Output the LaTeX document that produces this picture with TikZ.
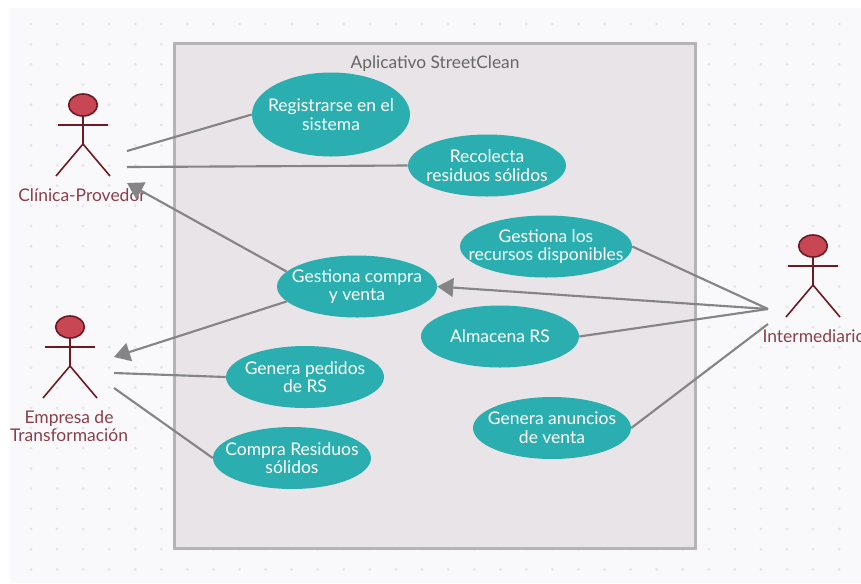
\documentclass[tikz,border=0pt]{standalone}
\usepackage{fontspec}
\setmainfont{Lato}
\usetikzlibrary{shapes.geometric,arrows.meta}
\definecolor{panelbg}{HTML}{F9F9FC}
\definecolor{griddot}{HTML}{E6E6EA}
\definecolor{sysfill}{HTML}{E9E4E7}
\definecolor{sysline}{HTML}{B6B2B5}
\definecolor{teal}{HTML}{2BAEAF}
\definecolor{conn}{HTML}{858585}
\definecolor{actline}{HTML}{6E1A22}
\definecolor{actfill}{HTML}{C94655}
\definecolor{acttext}{HTML}{8A3F4A}
\tikzset{
  x=0.75pt,y=-0.75pt,
  usecase/.style={ellipse,fill=teal,text=white,inner xsep=-20pt,inner ysep=-5pt,align=center,font=\fontsize{13.1}{14}\selectfont,minimum width=118.5pt,minimum height=46.5pt},
  link/.style={draw=conn,line width=1.6pt},
  linkarrow/.style={link,-{Triangle[length=12pt,width=14pt]}},
  actorlabel/.style={text=acttext,align=center,font=\fontsize{13.1}{14}\selectfont,inner sep=0pt},
  limb/.style={draw=actline,line width=1.2pt},
  head/.style={ellipse,draw=actline,fill=actfill,line width=1.2pt,minimum width=21.5pt,minimum height=16.5pt,inner sep=0pt},
}
\newcommand{\stickman}[3]{%
  \node[head] (#3h) at (#1,#2) {};
  \coordinate (#3a) at (#1-25,#2+20);
  \coordinate (#3b) at (#1+25,#2+20);
  \coordinate (#3c) at (#1+0,#2+39);
  \coordinate (#3d) at (#1-27,#2+71);
  \coordinate (#3e) at (#1+27,#2+71);
  \draw[limb] (#3h.south) -- (#3c);
  \draw[limb] (#3a) -- (#3b);
  \draw[limb] (#3d) -- (#3c) -- (#3e);
}
\begin{document}
\begin{tikzpicture}
\useasboundingbox (0,0) rectangle (861,583);
\fill[white] (0,0) rectangle (861,583);
\fill[panelbg] (10,8) rectangle (861,583);
\foreach \i in {0,...,31}{\foreach \j in {0,...,27}{
  \fill[griddot] ({31+26.07*\i},{24+20.2*\j}) circle[radius=1.6];
}}
\node[draw=sysline,fill=sysfill,line width=1.6pt,minimum width=390.75pt,minimum height=378.75pt,inner sep=0pt] (sys) at (435,296) {};
\node[text=black!60,font=\fontsize{13}{14}\selectfont,inner sep=0pt] (title) at (435,63.5) {Aplicativo StreetClean};

\node[usecase,minimum height=63pt] (reg) at (331,114.5) {Registrarse en el\\sistema};
\node[usecase] (rec) at (487,165.5) {Recolecta\\residuos sólidos};
\node[usecase,minimum width=129pt] (ges) at (546,246.5) {Gestiona los\\recursos disponibles};
\node[usecase,minimum width=120pt] (gcv) at (357,286.5) {Gestiona compra\\y venta};
\node[usecase] (alm) at (500,336.5) {Almacena RS};
\node[usecase] (ped) at (305,377) {Genera pedidos\\de RS};
\node[usecase] (com) at (292,458) {Compra Residuos\\sólidos};
\node[usecase] (anu) at (552,428) {Genera anuncios\\de venta};

\stickman{83}{105}{c}
\stickman{70}{327}{e}
\stickman{813}{246}{i}

\node[actorlabel] (cl) at (82,195) {Clínica-Provedor};
\node[actorlabel] (el) at (69,426) {Empresa de\\Transformación};
\node[actorlabel] (il) at (814,336) {Intermediario};

\coordinate (c1) at (127,151);
\coordinate (c2) at (127,167);
\coordinate (c3) at (127,183);
\coordinate (e1) at (114,357);
\coordinate (e2) at (114,373);
\coordinate (e3) at (114,388);
\coordinate (i1) at (768,309);
\coordinate (i2) at (768,324);

\draw[link] (c1) -- (reg.west);
\draw[link] (c2) -- (rec.west);
\draw[linkarrow] (gcv.168) -- (c3);
\draw[linkarrow] (gcv.192) -- (e1);
\draw[link] (e2) -- (ped.west);
\draw[link] (e3) -- (com.west);
\draw[link] (i1) -- (ges.east);
\draw[linkarrow] (i1) -- (gcv.east);
\draw[link] (i1) -- (alm.east);
\draw[link] (i2) -- (anu.east);
\end{tikzpicture}
\end{document}
